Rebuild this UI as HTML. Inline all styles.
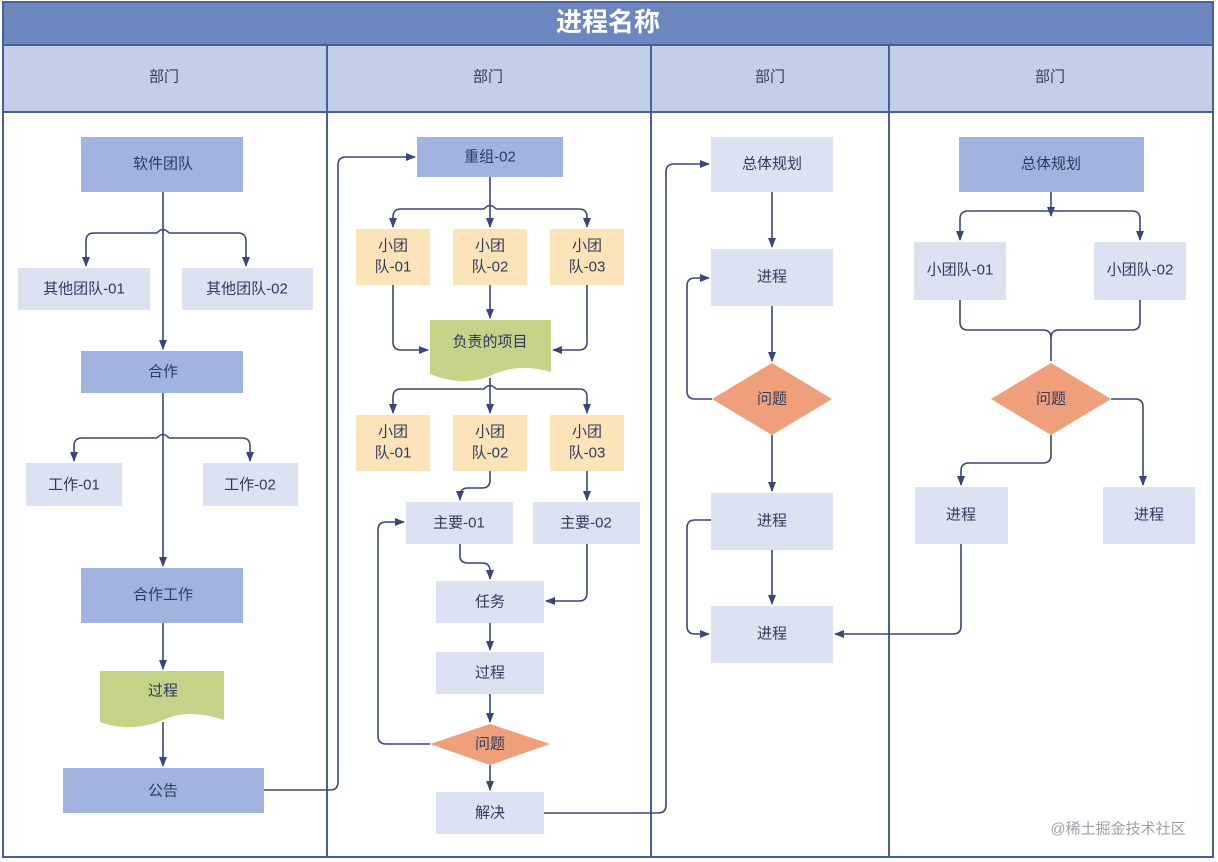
<!DOCTYPE html>
<html><head><meta charset="utf-8"><style>
html,body{margin:0;padding:0;background:#fff;}
svg{display:block;}
text{font-family:"Liberation Sans","Noto Sans CJK SC",sans-serif;fill:#2f3a5e;text-anchor:middle;dominant-baseline:central;font-size:15px;}
.l{fill:none;stroke:#3a4677;stroke-width:1.6;}
.a{marker-end:url(#ar);}
.dk{fill:#a1b3df;}
.lt{fill:#dce2f2;}
.or{fill:#fde3b8;}
.gr{fill:#c5d389;}
.dm{fill:#ef9f7a;}
</style></head><body>
<svg width="1218" height="862" viewBox="0 0 1218 862" xmlns="http://www.w3.org/2000/svg">
<defs><marker id="ar" markerWidth="10" markerHeight="10" refX="9" refY="5" orient="auto" markerUnits="userSpaceOnUse"><path d="M0,1 L10,5 L0,9 z" fill="#3a4677"/></marker></defs>
<!-- frame -->
<rect x="3" y="2" width="1210" height="855" fill="#fff" stroke="#4a5e9a" stroke-width="2"/>
<rect x="3" y="2" width="1210" height="43" fill="#6c87bf" stroke="#4a5e9a" stroke-width="2"/>
<text x="608" y="22" style="font-size:26px;font-weight:bold;fill:#fff">进程名称</text>
<rect x="3" y="45" width="1210" height="67" fill="#c3cfe9" stroke="#4a5e9a" stroke-width="2"/>
<g stroke="#4a5e9a" stroke-width="2"><line x1="327" y1="45" x2="327" y2="857"/><line x1="651" y1="45" x2="651" y2="857"/><line x1="889" y1="45" x2="889" y2="857"/></g>
<text x="164" y="77">部门</text><text x="488" y="77">部门</text><text x="770" y="77">部门</text><text x="1050" y="77">部门</text>

<!-- col1 nodes -->
<rect class="dk" x="81" y="137" width="162" height="55"/><text x="163" y="164">软件团队</text>
<rect class="lt" x="18" y="268" width="132" height="42"/><text x="84" y="289">其他团队-01</text>
<rect class="lt" x="182" y="268" width="131" height="42"/><text x="247" y="289">其他团队-02</text>
<rect class="dk" x="81" y="351" width="162" height="42"/><text x="163" y="372">合作</text>
<rect class="lt" x="26" y="463" width="96" height="43"/><text x="74" y="485">工作-01</text>
<rect class="lt" x="203" y="463" width="95" height="43"/><text x="250" y="485">工作-02</text>
<rect class="dk" x="81" y="568" width="162" height="55"/><text x="163" y="595">合作工作</text>
<path class="gr" d="M100,671 H224 V720 C200,712 180,712 163,720 C145,728 120,730 100,722 Z"/><text x="163" y="691">过程</text>
<rect class="dk" x="63" y="768" width="201" height="45"/><text x="163" y="791">公告</text>
<!-- col1 lines -->
<path class="l a" d="M163,192 V349"/>
<path class="l a" d="M157,233 H94 Q86,233 86,241 V266"/>
<path class="l a" d="M169,233 H238 Q246,233 246,241 V266"/>
<path class="l" d="M157,233 Q163,226 169,233"/>
<path class="l a" d="M163,393 V566"/>
<path class="l a" d="M157,438 H82 Q74,438 74,446 V461"/>
<path class="l a" d="M169,438 H242 Q250,438 250,446 V461"/>
<path class="l" d="M157,438 Q163,431 169,438"/>
<path class="l a" d="M163,623 V669"/>
<path class="l a" d="M163,722 V766"/>
<path class="l a" d="M264,790 H330 Q338,790 338,782 V165 Q338,157 346,157 H415"/>

<!-- col2 nodes -->
<rect class="dk" x="417" y="137" width="146" height="40"/><text x="490" y="157">重组-02</text>
<g class="or"><rect x="356" y="229" width="74" height="56"/><rect x="453" y="229" width="74" height="56"/><rect x="550" y="229" width="74" height="56"/>
<rect x="356" y="415" width="74" height="56"/><rect x="453" y="415" width="74" height="56"/><rect x="550" y="415" width="74" height="56"/></g>
<text x="393" y="246">小团</text><text x="393" y="267">队-01</text>
<text x="490" y="246">小团</text><text x="490" y="267">队-02</text>
<text x="587" y="246">小团</text><text x="587" y="267">队-03</text>
<text x="393" y="432">小团</text><text x="393" y="453">队-01</text>
<text x="490" y="432">小团</text><text x="490" y="453">队-02</text>
<text x="587" y="432">小团</text><text x="587" y="453">队-03</text>
<path class="gr" d="M430,320 H551 V372 C530,366 510,366 490,376 C470,384 450,382 430,374 Z"/><text x="490" y="342">负责的项目</text>
<rect class="lt" x="406" y="502" width="107" height="42"/><text x="459" y="523">主要-01</text>
<rect class="lt" x="533" y="502" width="107" height="42"/><text x="586" y="523">主要-02</text>
<rect class="lt" x="436" y="581" width="108" height="42"/><text x="490" y="602">任务</text>
<rect class="lt" x="436" y="652" width="108" height="42"/><text x="490" y="673">过程</text>
<path class="dm" d="M430,744 L490,724 L550,744 L490,765 Z"/><text x="490" y="744">问题</text>
<rect class="lt" x="436" y="792" width="108" height="42"/><text x="490" y="813">解决</text>
<!-- col2 lines -->
<path class="l a" d="M490,177 V227"/>
<path class="l a" d="M484,209 H401 Q393,209 393,217 V227"/>
<path class="l a" d="M496,209 H579 Q587,209 587,217 V227"/>
<path class="l" d="M484,209 Q490,202 496,209"/>
<path class="l a" d="M393,285 V342 Q393,350 401,350 H428"/>
<path class="l a" d="M490,285 V318"/>
<path class="l a" d="M587,285 V342 Q587,350 579,350 H553"/>
<path class="l a" d="M490,378 V413"/>
<path class="l a" d="M484,389 H401 Q393,389 393,397 V413"/>
<path class="l a" d="M496,389 H579 Q587,389 587,397 V413"/>
<path class="l" d="M484,389 Q490,382 496,389"/>
<path class="l a" d="M490,471 V480 Q490,488 482,488 H468 Q460,488 460,496 V500"/>
<path class="l a" d="M587,471 V500"/>
<path class="l a" d="M460,544 V556 Q460,563 468,563 H482 Q490,563 490,571 V579"/>
<path class="l a" d="M587,544 V593 Q587,601 579,601 H546"/>
<path class="l a" d="M490,623 V650"/>
<path class="l a" d="M490,694 V722"/>
<path class="l a" d="M490,765 V790"/>
<path class="l a" d="M430,744 H386 Q378,744 378,736 V530 Q378,522 386,522 H404"/>
<path class="l a" d="M544,813 H658 Q666,813 666,805 V172 Q666,164 674,164 H709"/>

<!-- col3 -->
<rect class="lt" x="711" y="137" width="122" height="55"/><text x="772" y="164">总体规划</text>
<rect class="lt" x="711" y="249" width="122" height="57"/><text x="772" y="277">进程</text>
<path class="dm" d="M712,399 L772,363 L832,399 L772,435 Z"/><text x="772" y="399">问题</text>
<rect class="lt" x="711" y="493" width="122" height="57"/><text x="772" y="521">进程</text>
<rect class="lt" x="711" y="606" width="122" height="57"/><text x="772" y="634">进程</text>
<path class="l a" d="M772,192 V247"/>
<path class="l a" d="M772,306 V361"/>
<path class="l a" d="M772,435 V491"/>
<path class="l a" d="M772,550 V604"/>
<path class="l a" d="M712,399 H695 Q687,399 687,391 V286 Q687,278 695,278 H709"/>
<path class="l a" d="M711,520 H695 Q687,520 687,528 V626 Q687,634 695,634 H709"/>

<!-- col4 -->
<rect class="dk" x="959" y="137" width="185" height="55"/><text x="1051" y="164">总体规划</text>
<rect class="lt" x="914" y="242" width="92" height="58"/><text x="960" y="270">小团队-01</text>
<rect class="lt" x="1094" y="242" width="92" height="58"/><text x="1140" y="270">小团队-02</text>
<path class="dm" d="M991,399 L1051,363 L1111,399 L1051,435 Z"/><text x="1051" y="399">问题</text>
<rect class="lt" x="915" y="487" width="93" height="57"/><text x="961" y="515">进程</text>
<rect class="lt" x="1103" y="487" width="92" height="57"/><text x="1149" y="515">进程</text>
<path class="l a" d="M1051,192 V216"/>
<path class="l a" d="M1051,211 H968 Q960,211 960,219 V240"/>
<path class="l a" d="M1051,211 H1132 Q1140,211 1140,219 V240"/>
<path class="l" d="M960,300 V322 Q960,330 968,330 H1043 Q1051,330 1051,338 V361"/>
<path class="l" d="M1140,300 V322 Q1140,330 1132,330 H1059 Q1051,330 1051,338"/>
<path class="l a" d="M1051,435 V455 Q1051,463 1043,463 H969 Q961,463 961,471 V485"/>
<path class="l a" d="M1111,399 H1135 Q1143,399 1143,407 V485"/>
<path class="l a" d="M961,544 V626 Q961,634 953,634 H835"/>
<text x="1118" y="829" style="font-size:15px;fill:#9aa0aa">@稀土掘金技术社区</text>
</svg>
</body></html>
